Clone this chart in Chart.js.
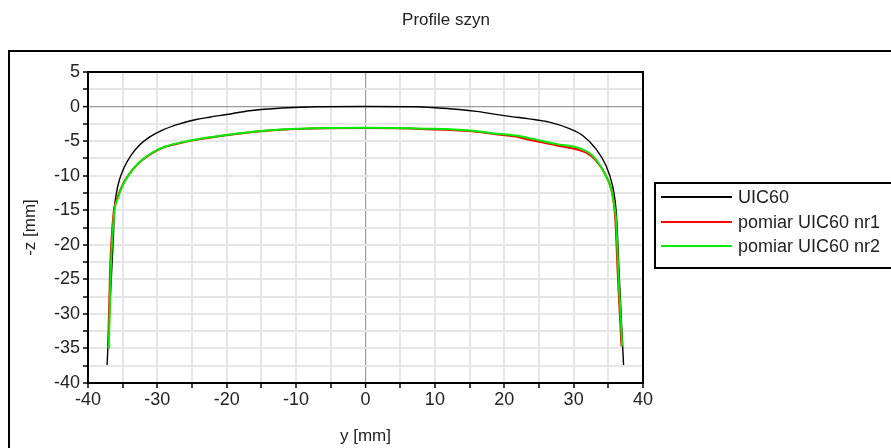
<!DOCTYPE html>
<html>
<head>
<meta charset="utf-8">
<script src="https://cdn.jsdelivr.net/npm/chart.js@4.4.0/dist/chart.umd.min.js"></script>
<style>
html,body{margin:0;padding:0;background:#fff;}
canvas{display:block;}
</style>
</head>
<body>
<canvas id="c" width="891" height="448"></canvas>
<script>
// ---- data ----
const chartTitle = 'Profile szyn';
const xTitle = 'y [mm]';
const yTitle = '-z [mm]';
const xLabels = [-40, -30, -20, -10, 0, 10, 20, 30, 40];
const yLabels = [5, 0, -5, -10, -15, -20, -25, -30, -35, -40];

const seriesNames = ['UIC60', 'pomiar UIC60 nr1', 'pomiar UIC60 nr2'];

const uicY = [-37.25, -36.8, -36.35, -36.2, -35.95, -35.5, -34.75, -33.8, -32.6, -31.15, -29.2, -26.8, -24.4, -22.5, -20, -16.7, -12, -7, 0, 7, 11, 13.5, 16, 18.3, 21, 23.6, 26.5, 29.4, 31.3, 33.2, 34.65, 35.6, 36.0, 36.2, 36.6, 37.2];
const uicZ = [-37.4, -28, -19, -15, -12.8, -10.7, -8.75, -7.07, -5.6, -4.43, -3.37, -2.5, -1.88, -1.54, -1.15, -0.6, -0.2, -0.02, 0, -0.03, -0.25, -0.43, -0.7, -1.06, -1.45, -1.78, -2.26, -3.2, -4.18, -6.1, -8.5, -11.4, -13.8, -16.2, -25, -37.4];

const m1Y = [-37.1, -36.8, -36.3, -35.8, -35.05, -34.05, -32.6, -30.7, -28.75, -26.35, -24, -22.5, -20.1, -14.3, -9.5, 0, 8.7, 15, 18.3, 21.7, 23.6, 27.45, 31.8, 33.2, 34.65, 35.6, 36.0, 36.4, 36.9];
const m1Z = [-35, -23.2, -15.3, -13.3, -11.4, -9.75, -8.1, -6.7, -5.8, -5.2, -4.75, -4.5, -4.15, -3.5, -3.25, -3.12, -3.28, -3.55, -3.95, -4.35, -4.8, -5.6, -6.68, -7.8, -10.0, -12.8, -16.2, -25, -34.7];

const m2Y = [-37.0, -36.7, -36.2, -35.7, -35, -34, -32.6, -30.7, -28.75, -26.35, -24, -22.5, -20.1, -14.3, -9.5, 0, 8.7, 15, 18.3, 21.7, 23.6, 27.45, 31.3, 32.7, 34.2, 35.4, 35.85, 36.1, 36.5, 37.0];
const m2Z = [-35, -23.2, -15.25, -13.3, -11.4, -9.7, -8.05, -6.65, -5.75, -5.15, -4.7, -4.45, -4.1, -3.46, -3.2, -3.07, -3.2, -3.46, -3.85, -4.2, -4.57, -5.4, -6.2, -7.07, -9.2, -11.9, -14.3, -16.2, -25, -34.7];

// ---- styling ----
const FONT = '"Liberation Sans", Arial, sans-serif';
const colors = ['#000000', '#ff0000', '#00ee00'];
const widths = [1.4, 2, 2];

const toPts = (xs, ys) => xs.map((x, i) => ({x: x, y: ys[i]}));

const pagePlugin = {
  id: 'page',
  beforeDraw(chart) {
    const c = chart.ctx;
    c.save();
    c.fillStyle = '#fff';
    c.fillRect(0, 0, chart.width, chart.height);
    c.restore();
  },
  afterDraw(chart) {
    const c = chart.ctx;
    const a = chart.chartArea;
    c.save();
    // plot border
    c.strokeStyle = '#000';
    c.lineWidth = 2;
    c.strokeRect(a.left, a.top, a.right - a.left, a.bottom - a.top);
    // outer frame
    c.lineWidth = 2;
    c.strokeRect(9, 51, 1000, 600);
    // title
    c.fillStyle = '#222';
    c.font = '17px ' + FONT;
    c.textAlign = 'center';
    c.textBaseline = 'middle';
    c.fillText(chartTitle, 446, 20);
    // legend box
    c.lineWidth = 2;
    c.strokeStyle = '#000';
    c.strokeRect(655, 183, 400, 85);
    const ys = [197, 222, 246];
    chart.data.datasets.forEach((ds, i) => {
      c.strokeStyle = ds.borderColor;
      c.lineWidth = 2;
      c.beginPath();
      c.moveTo(661, ys[i]);
      c.lineTo(732, ys[i]);
      c.stroke();
      c.fillStyle = '#222';
      c.font = '18px ' + FONT;
      c.textAlign = 'left';
      c.textBaseline = 'middle';
      c.fillText(ds.label, 738, ys[i] + 1);
    });
    c.restore();
  }
};

const gridColor = ctx => (ctx.tick && ctx.tick.value === 0) ? '#9a9a9a' : '#e6e6e6';
const gridWidth = ctx => (ctx.tick && ctx.tick.value === 0) ? 1.2 : 2;

new Chart(document.getElementById('c'), {
  type: 'scatter',
  data: {
    datasets: [
      {label: seriesNames[0], data: toPts(uicY, uicZ), borderColor: colors[0], borderWidth: widths[0], showLine: true, pointRadius: 0, order: 3, cubicInterpolationMode: 'monotone'},
      {label: seriesNames[1], data: toPts(m1Y, m1Z), borderColor: colors[1], borderWidth: widths[1], showLine: true, pointRadius: 0, order: 2, cubicInterpolationMode: 'monotone'},
      {label: seriesNames[2], data: toPts(m2Y, m2Z), borderColor: colors[2], borderWidth: widths[2], showLine: true, pointRadius: 0, order: 1, cubicInterpolationMode: 'monotone'}
    ]
  },
  options: {
    responsive: false,
    animation: false,
    devicePixelRatio: 1,
    layout: {padding: {left: 9, top: 72, right: 248, bottom: 0}},
    plugins: {legend: {display: false}, tooltip: {enabled: false}, title: {display: false}},
    scales: {
      x: {
        type: 'linear', min: -40, max: 40,
        ticks: {stepSize: 5, autoSkip: false, maxRotation: 0, padding: 1, color: '#222',
          font: {family: FONT, size: 18},
          callback: v => xLabels.includes(v) ? String(v) : ''},
        grid: {color: gridColor, lineWidth: gridWidth, tickColor: '#000', tickWidth: 1.5, tickLength: 5, drawTicks: true},
        border: {display: false},
        title: {display: true, text: xTitle, color: '#222', font: {family: FONT, size: 17}, padding: {top: 0, bottom: 1}},
        afterFit: s => { s.height = 448 - 383; }
      },
      y: {
        type: 'linear', min: -40, max: 5,
        ticks: {stepSize: 2.5, autoSkip: false, padding: 3, color: '#222',
          font: {family: FONT, size: 18},
          callback: v => yLabels.includes(v) ? String(v) : ''},
        grid: {color: gridColor, lineWidth: gridWidth, tickColor: '#000', tickWidth: 1.5, tickLength: 5, drawTicks: true},
        border: {display: false},
        title: {display: true, text: yTitle, color: '#222', font: {family: FONT, size: 17}, padding: {top: 11, bottom: 0}},
        afterFit: s => { s.width = 79; }
      }
    }
  },
  plugins: [pagePlugin]
});
</script>
</body>
</html>
